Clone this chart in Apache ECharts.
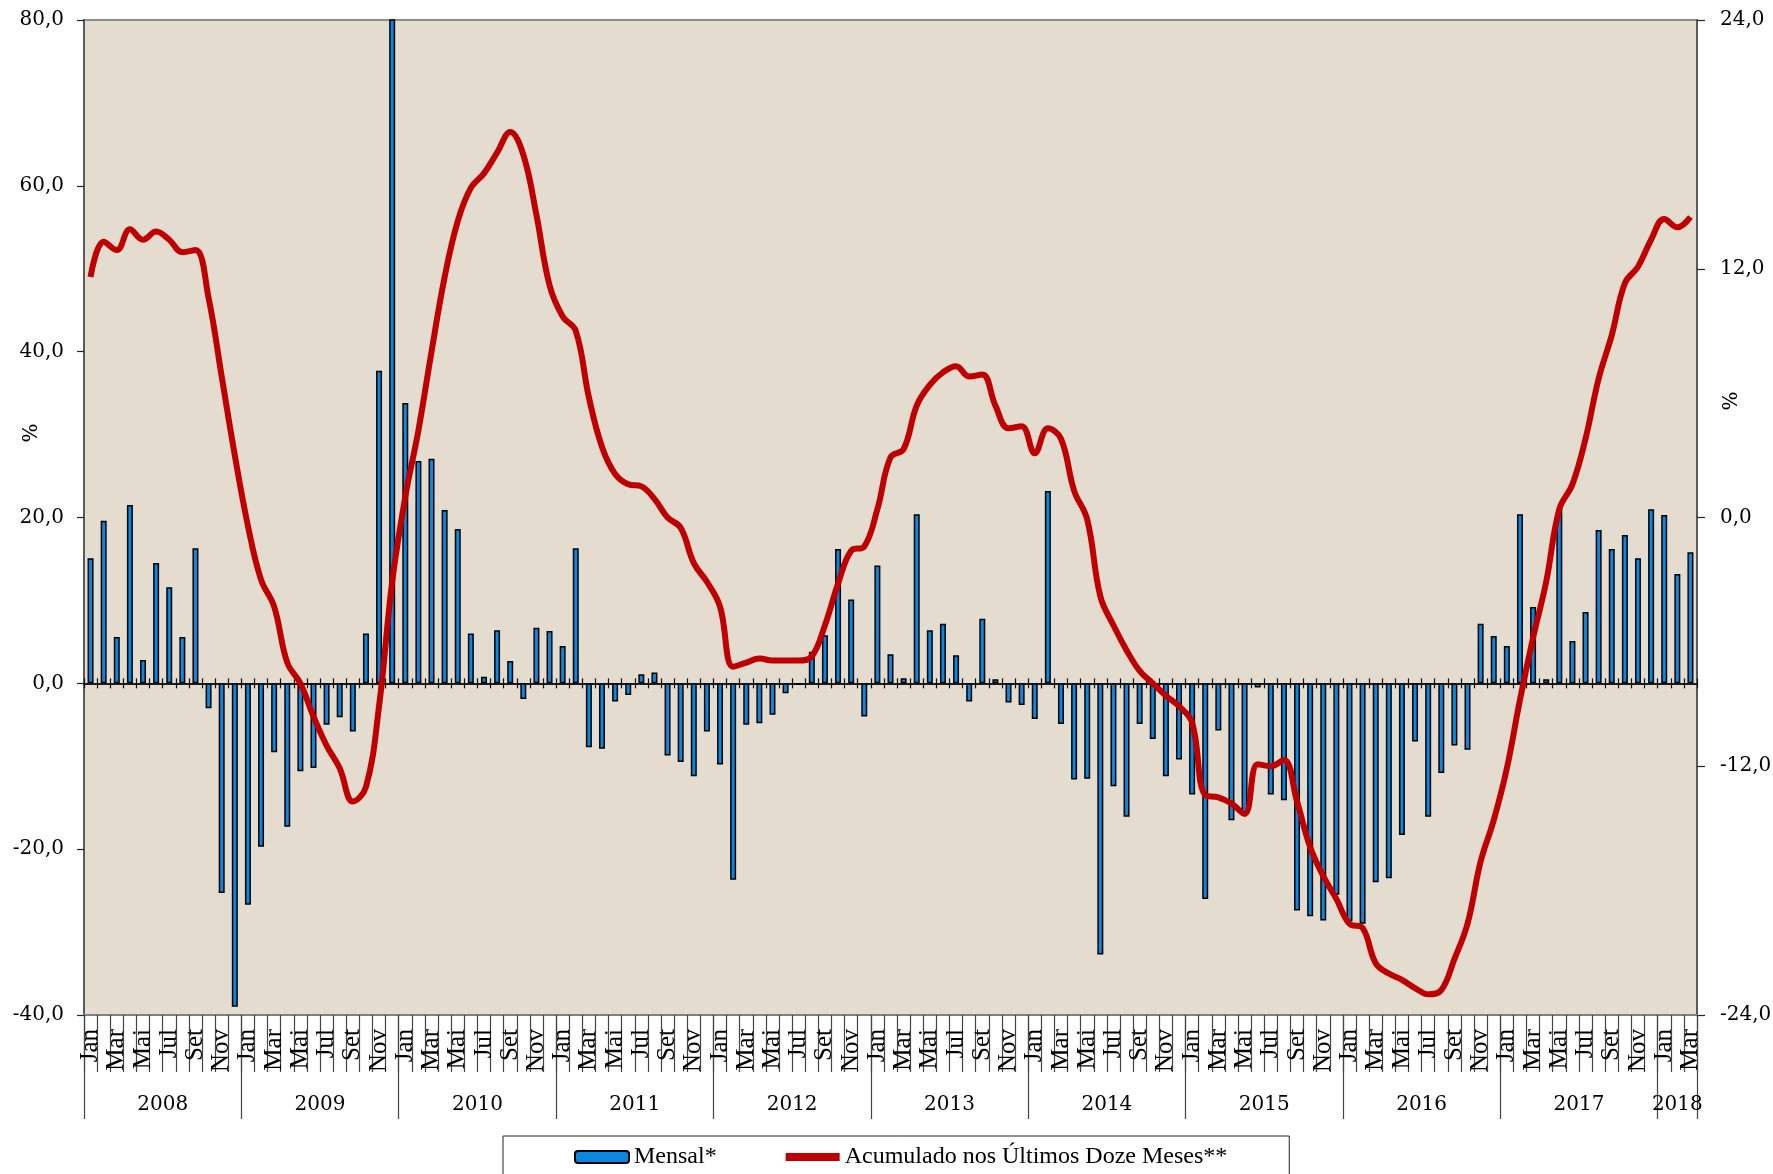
<!DOCTYPE html>
<html>
<head>
<meta charset="utf-8">
<script src="https://cdn.jsdelivr.net/npm/echarts@6/dist/echarts.min.js"></script>
<style>
html,body{margin:0;padding:0;background:#ffffff;}
#chart{width:1773px;height:1174px;}
</style>
</head>
<body>
<div id="chart"></div>
<script>
// ---- data ----
const years = ['2008','2009','2010','2011','2012','2013','2014','2015','2016','2017','2018'];
const monthsPerYear = [12,12,12,12,12,12,12,12,12,12,3];
const monthNames = ['Jan','Fev','Mar','Abr','Mai','Jun','Jul','Ago','Set','Out','Nov','Dez'];
const leftTicks = [-40, -20, 0, 20, 40, 60, 80];
const rightTicks = [-24, -12, 0, 12, 24];

const mensal = [
  15.1, 19.6, 5.6, 21.5, 2.8, 14.5, 11.6, 5.6, 16.3, -3.0, -25.3, -39.0,
  -26.7, -19.7, -8.3, -17.3, -10.6, -10.2, -5.0, -4.1, -5.8, 6.0, 37.7, 95.0,
  33.8, 26.8, 27.1, 20.9, 18.6, 6.0, 0.8, 6.4, 2.7, -1.9, 6.7, 6.3,
  4.5, 16.3, -7.7, -7.9, -2.2, -1.4, 1.1, 1.3, -8.7, -9.5, -11.2, -5.8,
  -9.8, -23.7, -5.0, -4.8, -3.8, -1.2, -0.2, 3.8, 5.8, 16.2, 10.1, -4.0,
  14.2, 3.5, 0.6, 20.4, 6.4, 7.2, 3.4, -2.2, 7.8, 0.5, -2.3, -2.6,
  -4.3, 23.2, -4.9, -11.6, -11.5, -32.7, -12.4, -16.1, -4.9, -6.7, -11.2, -9.2,
  -13.4, -26.0, -5.7, -16.5, -15.6, -0.5, -13.4, -14.1, -27.4, -28.1, -28.6, -25.5,
  -28.7, -29.0, -24.0, -23.5, -18.3, -7.0, -16.1, -10.8, -7.5, -8.0, 7.2, 5.7,
  4.5, 20.4, 9.2, 0.5, 21.0, 5.1, 8.6, 18.5, 16.2, 17.9, 15.1, 21.0,
  20.3, 13.2, 15.8
];

const acumulado = [
  11.6, 13.3, 12.9, 13.9, 13.4, 13.8, 13.4, 12.8, 12.9, 10.6, 6.8, 3.0,
  -0.4, -3.0, -4.3, -7.0, -8.0, -9.6, -11.0, -12.1, -13.7, -13.0, -9.1, -3.1,
  1.0, 4.2, 8.0, 11.6, 14.3, 15.9, 16.6, 17.6, 18.6, 17.5, 14.6, 11.2,
  9.7, 9.0, 5.8, 3.4, 2.1, 1.6, 1.5, 0.9, 0.0, -0.5, -2.2, -3.1,
  -4.3, -7.2, -7.0, -6.8, -6.9, -6.9, -6.9, -6.7, -5.2, -3.2, -1.6, -1.4,
  0.4, 2.9, 3.3, 5.4, 6.4, 7.0, 7.3, 6.8, 6.9, 5.4, 4.3, 4.4,
  3.1, 4.3, 3.8, 1.3, -0.1, -3.8, -5.2, -6.4, -7.4, -8.0, -8.6, -9.1,
  -9.9, -13.4, -13.5, -13.8, -14.3, -11.9, -12.0, -11.7, -13.7, -15.9, -17.3, -18.4,
  -19.6, -19.8, -21.5, -22.0, -22.3, -22.7, -23.0, -22.8, -21.3, -19.6, -16.6, -14.6,
  -12.1, -8.8, -5.8, -3.1, 0.4, 1.6, 3.8, 6.7, 8.8, 11.3, 12.1, 13.4,
  14.4, 14.0, 14.5
];

// ---- derived tables ----
const categories = [];
years.forEach((y, yi) => {
  for (let m = 0; m < monthsPerYear[yi]; m++) categories.push(monthNames[m] + '/' + y);
});
// half-month boundary axis for year labels / separators
const halfPoints = [];
const yearTickIdx = new Set([0]);
let pos = 0;
years.forEach((y, yi) => {
  const n = monthsPerYear[yi] * 2;
  for (let k = 0; k < n; k++) halfPoints.push(k === n / 2 ? y : '');
  pos += n;
  yearTickIdx.add(pos);
});
halfPoints.push('');

const fmt = v => v.toFixed(1).replace('.', ',');
const serifNum = 'DejaVu Serif';
const serifTxt = 'Liberation Serif';

const chart = echarts.init(document.getElementById('chart'), null, {renderer: 'canvas'});
chart.setOption({
  animation: false,
  backgroundColor: '#ffffff',
  grid: {
    left: 84, right: 76, top: 20, bottom: 159,
    containLabel: false, outerBoundsMode: 'none',
    show: true, backgroundColor: '#e3dccf', borderColor: '#8c8c8c', borderWidth: 2
  },
  legend: {
    left: 503, top: 1136,
    padding: [9, 62, 30, 71],
    itemGap: 65,
    itemWidth: 54, itemHeight: 12,
    backgroundColor: '#ffffff',
    borderColor: '#222', borderWidth: 1,
    textStyle: {fontFamily: serifTxt, fontSize: 24, color: '#000'},
    data: [
      {name: 'Mensal*'},
      {name: 'Acumulado nos Últimos Doze Meses**', lineStyle: {width: 8}, itemStyle: {opacity: 0}}
    ]
  },
  xAxis: [
    {
      type: 'category', data: categories, position: 'bottom', boundaryGap: true,
      axisLine: {onZero: false, lineStyle: {color: '#808080', width: 2}},
      axisTick: {show: true, interval: 0, length: 57, lineStyle: {color: '#444', width: 1.2}},
      axisLabel: {
        interval: 1, rotate: 90, margin: 14,
        fontFamily: serifTxt, fontSize: 25, color: '#000',
        formatter: v => v.split('/')[0]
      },
      splitLine: {show: false}
    },
    {
      type: 'category', data: categories, position: 'bottom', boundaryGap: true,
      axisLine: {onZero: true, onZeroAxisIndex: 0, lineStyle: {color: '#111', width: 1.5}},
      axisTick: {show: true, interval: 0, inside: true, length: 5, lineStyle: {color: '#111', width: 1.2}},
      axisLabel: {show: false}, splitLine: {show: false}
    },
    {
      type: 'category', data: categories, position: 'bottom', boundaryGap: true,
      axisLine: {onZero: true, onZeroAxisIndex: 0, lineStyle: {color: '#111', width: 1.5}},
      axisTick: {show: true, interval: 0, inside: false, length: 5, lineStyle: {color: '#111', width: 1.2}},
      axisLabel: {show: false}, splitLine: {show: false}
    },
    {
      type: 'category', data: halfPoints, position: 'bottom', boundaryGap: false,
      axisLine: {show: false, onZero: false},
      axisTick: {show: true, length: 104, interval: (i) => yearTickIdx.has(i), lineStyle: {color: '#444', width: 1.2}},
      axisLabel: {
        interval: (i, v) => v !== '', margin: 80,
        fontFamily: serifNum, fontSize: 20, color: '#000'
      },
      splitLine: {show: false}
    }
  ],
  yAxis: [
    {
      type: 'value', position: 'left', min: leftTicks[0], max: leftTicks[leftTicks.length - 1], interval: 20,
      axisLine: {show: true, lineStyle: {color: '#5a5a5a', width: 2}},
      axisTick: {show: true, length: 7, lineStyle: {color: '#222', width: 1.2}},
      axisLabel: {formatter: fmt, margin: 20, fontFamily: serifNum, fontSize: 20, color: '#000'},
      splitLine: {show: false},
      name: '%', nameLocation: 'middle', nameRotate: 90, nameGap: 42, nameMoveOverlap: false,
      nameTextStyle: {fontFamily: serifNum, fontSize: 20, color: '#000', padding: [0, 0, 0, 169]}
    },
    {
      type: 'value', position: 'right', min: rightTicks[0], max: rightTicks[rightTicks.length - 1], interval: 12,
      axisLine: {show: true, lineStyle: {color: '#5a5a5a', width: 2}},
      axisTick: {show: true, length: 8, lineStyle: {color: '#222', width: 1.2}},
      axisLabel: {formatter: fmt, margin: 23, fontFamily: serifNum, fontSize: 20, color: '#000'},
      splitLine: {show: false},
      name: '%', nameLocation: 'middle', nameRotate: 90, nameGap: 25, nameMoveOverlap: false,
      nameTextStyle: {fontFamily: serifNum, fontSize: 20, color: '#000', padding: [0, 0, 0, 233]}
    }
  ],
  series: [
    {
      name: 'Mensal*', type: 'bar', xAxisIndex: 0, yAxisIndex: 0,
      data: mensal, barWidth: 6, clip: true,
      itemStyle: {color: '#0a87e0', borderColor: '#000', borderWidth: 1.5},
      z: 2
    },
    {
      name: 'Acumulado nos Últimos Doze Meses**', type: 'line', xAxisIndex: 0, yAxisIndex: 1,
      data: acumulado, smooth: 0.4, symbol: 'none',
      lineStyle: {color: '#c00000', width: 6},
      itemStyle: {color: '#c00000'},
      z: 5
    }
  ]
});
</script>
</body>
</html>
